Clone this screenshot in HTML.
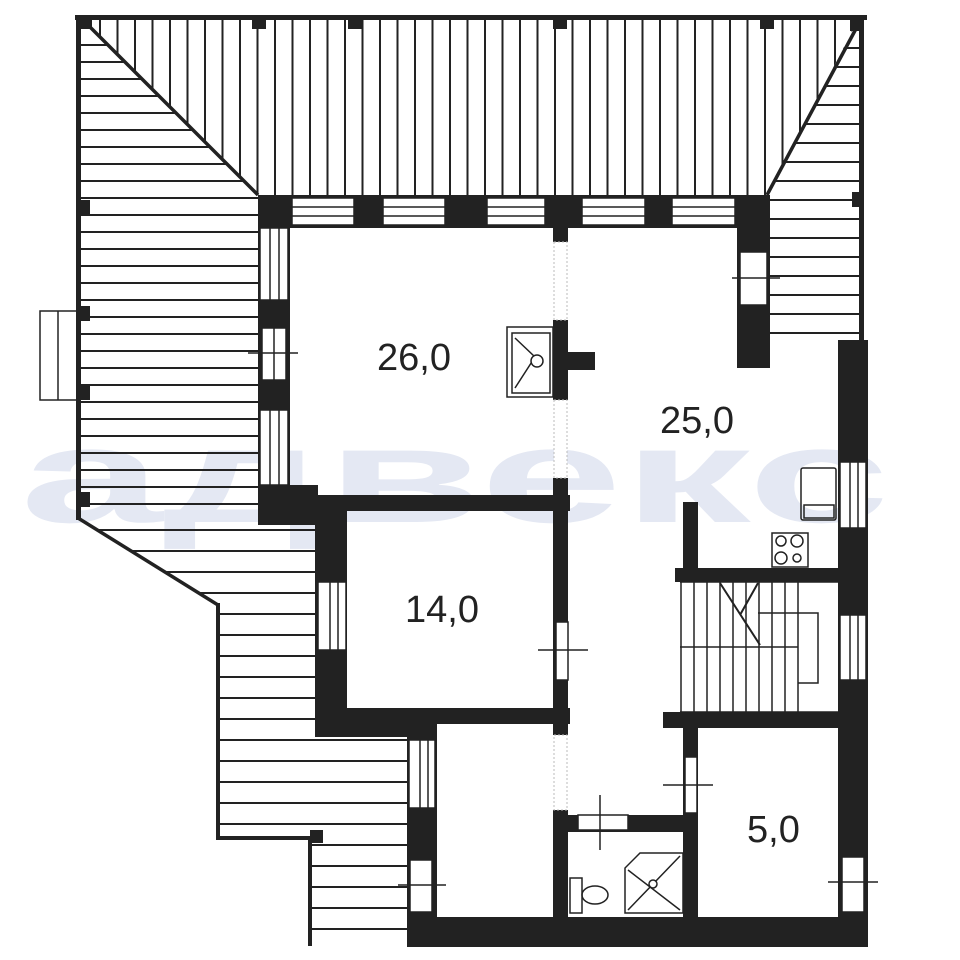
<!DOCTYPE html>
<html><head><meta charset="utf-8"><style>
html,body{margin:0;padding:0;background:#fff;width:960px;height:960px;overflow:hidden}
svg{display:block}
</style></head><body>
<svg id="s" width="960" height="960" viewBox="0 0 960 960" xmlns="http://www.w3.org/2000/svg">
<defs>
<clipPath id="cTop"><polygon points="85,20 858,20 767,195 258,195"/></clipPath>
<clipPath id="cLeft"><polygon points="80,20 85,20 258,195 258,520 80,520"/></clipPath>
<clipPath id="cRight"><polygon points="858,20 862,20 862,340 770,340 770,195 767,195"/></clipPath>
<clipPath id="cLow"><polygon points="78,518 318,518 318,737 407,737 407,945 310,945 310,838 218,838 218,605"/></clipPath>
</defs>
<rect width="960" height="960" fill="#fff"/>
<text x="20" y="522" font-family="Liberation Sans, sans-serif" font-weight="bold" font-size="135" fill="#e4e8f3" textLength="870" lengthAdjust="spacingAndGlyphs">адвекс</text>
<g id="boards" stroke="#222" stroke-width="2" fill="none"></g>
<g stroke="#222" stroke-width="3.5" fill="none">
<path d="M85,22L258,195M858,25L767,195M78,518L218,605"/>
</g>
<g fill="#222">
<rect x="75" y="15" width="792" height="5"/>
<rect x="76" y="15" width="5" height="505"/>
<rect x="859" y="15" width="5" height="330"/>
<rect x="216" y="603" width="4" height="237"/>
<rect x="216" y="836" width="96" height="4"/>
<rect x="308" y="836" width="4" height="110"/>
<rect x="78" y="17" width="14" height="12"/><rect x="252" y="17" width="14" height="12"/><rect x="348" y="17" width="14" height="12"/>
<rect x="553" y="17" width="14" height="12"/><rect x="760" y="17" width="14" height="12"/><rect x="850" y="17" width="14" height="14"/>
<rect x="78" y="200" width="12" height="15"/><rect x="78" y="306" width="12" height="15"/><rect x="78" y="385" width="12" height="15"/><rect x="78" y="492" width="12" height="15"/>
<rect x="852" y="192" width="12" height="15"/><rect x="310" y="830" width="13" height="13"/>
<rect x="258" y="195" width="512" height="33"/>
<rect x="553" y="228" width="15" height="14"/>
<rect x="258" y="195" width="32" height="330"/>
<rect x="258" y="485" width="60" height="40"/>
<rect x="737" y="195" width="33" height="173"/>
<rect x="838" y="340" width="30" height="607"/>
<rect x="290" y="495" width="280" height="16"/>
<rect x="315" y="495" width="32" height="242"/>
<rect x="315" y="708" width="255" height="16"/>
<rect x="315" y="708" width="122" height="29"/>
<rect x="407" y="708" width="30" height="239"/>
<rect x="553" y="320" width="15" height="80"/>
<rect x="568" y="352" width="27" height="18"/>
<rect x="553" y="478" width="15" height="257"/>
<rect x="553" y="810" width="15" height="137"/>
<rect x="407" y="917" width="461" height="30"/>
<rect x="683" y="502" width="15" height="80"/>
<rect x="675" y="568" width="165" height="14"/>
<rect x="663" y="712" width="177" height="16"/>
<rect x="683" y="712" width="15" height="235"/>
<rect x="568" y="815" width="120" height="17"/>
</g>
<g fill="#fff" stroke="#222" stroke-width="1.5">
<rect x="292" y="198" width="62" height="27"/><rect x="383" y="198" width="62" height="27"/><rect x="487" y="198" width="58" height="27"/>
<rect x="582" y="198" width="63" height="27"/><rect x="672" y="198" width="63" height="27"/>
<rect x="260" y="228" width="28" height="72"/><rect x="262" y="328" width="24" height="52"/><rect x="260" y="410" width="28" height="75"/>
<rect x="740" y="252" width="27" height="53"/>
<rect x="840" y="462" width="26" height="66"/><rect x="840" y="615" width="26" height="65"/><rect x="842" y="857" width="22" height="55"/>
<rect x="318" y="582" width="28" height="68"/><rect x="556" y="622" width="12" height="58"/>
<rect x="409" y="740" width="26" height="68"/><rect x="410" y="860" width="22" height="52"/>
<rect x="578" y="815" width="50" height="15"/><rect x="685" y="757" width="12" height="56"/>
</g>
<g fill="#fff" stroke="#bbb" stroke-width="1" stroke-dasharray="2,2">
<rect x="554" y="242" width="13" height="78"/><rect x="554" y="400" width="13" height="78"/><rect x="554" y="735" width="13" height="75"/>
</g>
<g stroke="#222" stroke-width="1.5" fill="none">
<path d="M292,207H354M292,216H354M383,207H445M383,216H445M487,207H545M487,216H545M582,207H645M582,216H645M672,207H735M672,216H735"/>
<path d="M270,228V300M279,228V300M270,410V485M279,410V485M850,462V528M858,462V528M850,615V680M858,615V680M330,582V650M338,582V650M420,740V808M428,740V808"/>
<path d="M248,353H298M274,328V380M732,278H780M538,650H588M600,795V850M663,785H713M398,885H446M828,882H878"/>
<rect x="40" y="311" width="38" height="89"/><path d="M58,311V400"/>
<rect x="507" y="327" width="46" height="70"/><rect x="512" y="333" width="38" height="60"/>
<path d="M515,338L535,357L515,388"/><circle cx="537" cy="361" r="6" fill="#fff"/>
<path d="M680,582H838M680,712H838M680,647H798M758,613H818V683H798"/>
<path d="M720,583L760,645M758,583L740,615" stroke-width="2"/>
<g id="stairs"></g>
<rect x="801" y="468" width="35" height="52" rx="2"/><rect x="804" y="505" width="30" height="13"/>
<rect x="772" y="533" width="36" height="34"/>
<circle cx="781" cy="541" r="5"/><circle cx="797" cy="541" r="6"/><circle cx="781" cy="558" r="6"/><circle cx="797" cy="558" r="4"/>
<rect x="570" y="878" width="12" height="35"/><ellipse cx="595" cy="895" rx="13" ry="9"/>
<path d="M625,913V868L640,853H683V913Z"/><path d="M628,910L680,856M628,870L680,910"/><circle cx="653" cy="884" r="4" fill="#fff"/>
</g>
<g font-family="Liberation Sans, sans-serif" font-size="38" fill="#222">
<text x="377" y="370">26,0</text>
<text x="660" y="433">25,0</text>
<text x="405" y="622">14,0</text>
<text x="747" y="842">5,0</text>
</g>
</svg>
<script>
(function(){
var ns="http://www.w3.org/2000/svg",b=document.getElementById("boards");
function ln(x1,y1,x2,y2,c,p){var l=document.createElementNS(ns,"line");l.setAttribute("x1",x1);l.setAttribute("y1",y1);l.setAttribute("x2",x2);l.setAttribute("y2",y2);if(c)l.setAttribute("clip-path","url(#"+c+")");(p||b).appendChild(l);}
for(var x=100;x<860;x+=17.5)ln(x,20,x,195,"cTop");
for(var y=45;y<520;y+=17)ln(80,y,260,y,"cLeft");
for(var y=48;y<345;y+=19)ln(765,y,862,y,"cRight");
for(var y=530;y<945;y+=21)ln(78,y,410,y,"cLow");
var st=document.getElementById("stairs");
for(var i=0;i<10;i++){var xx=681+i*13;ln(xx,582,xx,712,null,st);}
})();
</script>
</body></html>
